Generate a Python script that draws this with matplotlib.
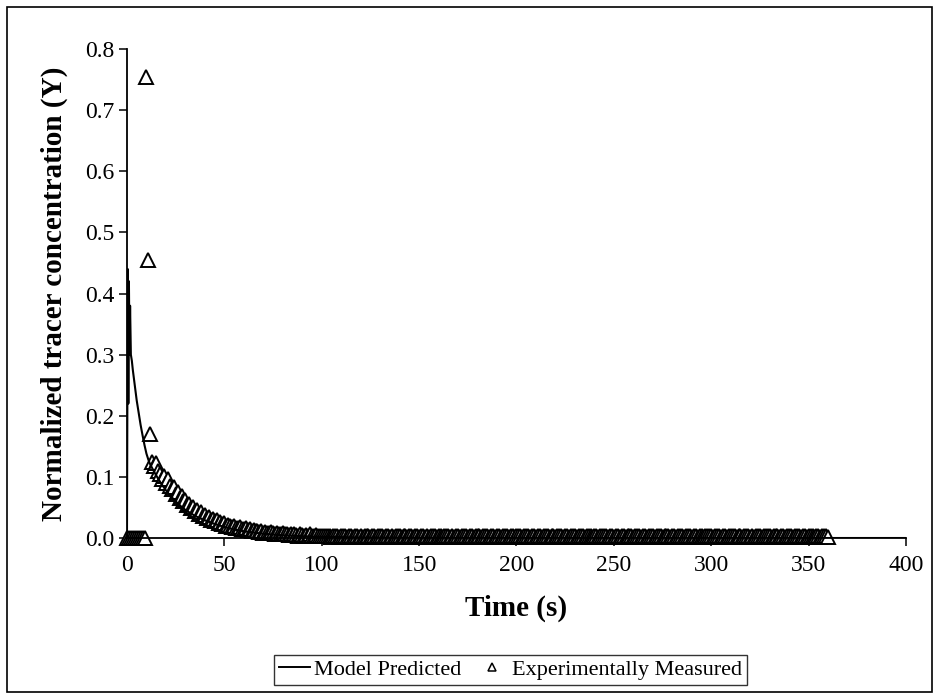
import numpy as np
import matplotlib
matplotlib.use("Agg")
import matplotlib.pyplot as plt
from matplotlib.patches import Rectangle
from matplotlib.lines import Line2D

# ---------------- data ----------------
model_time = [0, 0.4, 0.7, 1.0, 1.3, 1.6, 2.0, 2.5, 3.0, 4, 5, 6, 7, 8, 9, 10, 11, 12, 14, 16, 18,
              20, 22, 25, 28, 30, 35, 40, 45, 50, 55, 60, 65, 70, 80, 90, 100, 120, 150, 200, 300, 400]
model_values = [0.0, 0.44, 0.22, 0.42, 0.30, 0.38, 0.30, 0.29, 0.275, 0.25, 0.225, 0.205, 0.185,
                0.168, 0.152, 0.138, 0.128, 0.120, 0.108, 0.097, 0.087, 0.078, 0.070, 0.060,
                0.051, 0.046, 0.036, 0.029, 0.023, 0.018, 0.014, 0.011, 0.009, 0.007, 0.0045,
                0.003, 0.002, 0.001, 0.0005, 0.0002, 0.0, 0.0]

exp_time_early = np.arange(0, 101, 1)
exp_values_early = [
    0.0, 0.0, 0.0, 0.0, 0.0, 0.0, 0.0, 0.0, 0.0, 0.0,                      # 0-9
    0.755, 0.455, 0.170, 0.125, 0.118, 0.122, 0.110, 0.104, 0.096, 0.102,  # 10-19
    0.090, 0.097, 0.085, 0.080, 0.083, 0.072, 0.075, 0.066, 0.068, 0.060,  # 20-29
    0.062, 0.054, 0.056, 0.049, 0.051, 0.044, 0.046, 0.040, 0.042, 0.036,  # 30-39
    0.038, 0.033, 0.034, 0.030, 0.031, 0.028, 0.029, 0.025, 0.027, 0.023,  # 40-49
    0.024, 0.020, 0.022, 0.019, 0.018, 0.020, 0.017, 0.016, 0.018, 0.015,  # 50-59
    0.014, 0.016, 0.013, 0.014, 0.012, 0.013, 0.011, 0.012, 0.010, 0.011,  # 60-69
    0.009, 0.010, 0.009, 0.008, 0.010, 0.008, 0.007, 0.009, 0.007, 0.006,  # 70-79
    0.008, 0.006, 0.007, 0.005, 0.006, 0.005, 0.007, 0.005, 0.004, 0.006,  # 80-89
    0.005, 0.004, 0.005, 0.004, 0.006, 0.004, 0.003, 0.005, 0.004, 0.003,  # 90-99
    0.004,                                                                 # 100
]

exp_time_late = np.arange(101, 361, 1)
exp_values_late = [
    0.004, 0.003, 0.004, 0.003, 0.002, 0.004, 0.003, 0.003, 0.002, 0.003,  # 101-110
    0.003, 0.004, 0.002, 0.003, 0.003, 0.002, 0.004, 0.003, 0.002, 0.003,
    0.002, 0.003, 0.004, 0.003, 0.002, 0.003, 0.003, 0.002, 0.004, 0.003,
    0.003, 0.002, 0.003, 0.004, 0.002, 0.003, 0.002, 0.003, 0.003, 0.004,
    0.002, 0.003, 0.003, 0.002, 0.004, 0.003, 0.002, 0.003, 0.003, 0.002,
    0.003, 0.004, 0.002, 0.003, 0.002, 0.003, 0.004, 0.003, 0.002, 0.003,
    0.003, 0.002, 0.003, 0.004, 0.003, 0.002, 0.003, 0.002, 0.004, 0.003,
    0.002, 0.003, 0.003, 0.004, 0.002, 0.003, 0.003, 0.002, 0.003, 0.004,
    0.003, 0.002, 0.004, 0.003, 0.003, 0.002, 0.003, 0.004, 0.002, 0.003,
    0.003, 0.002, 0.003, 0.003, 0.004, 0.002, 0.003, 0.003, 0.002, 0.004,  # 191-200
    0.003, 0.003, 0.002, 0.003, 0.004, 0.003, 0.002, 0.003, 0.003, 0.002,
    0.004, 0.003, 0.002, 0.003, 0.003, 0.004, 0.002, 0.003, 0.003, 0.002,
    0.003, 0.004, 0.003, 0.002, 0.003, 0.003, 0.002, 0.004, 0.003, 0.003,
    0.002, 0.003, 0.004, 0.003, 0.002, 0.003, 0.003, 0.004, 0.002, 0.003,
    0.003, 0.002, 0.003, 0.004, 0.003, 0.003, 0.002, 0.003, 0.004, 0.002,
    0.004, 0.003, 0.002, 0.003, 0.003, 0.002, 0.004, 0.003, 0.003, 0.002,
    0.003, 0.003, 0.004, 0.002, 0.003, 0.003, 0.002, 0.003, 0.004, 0.003,
    0.002, 0.004, 0.003, 0.003, 0.002, 0.003, 0.003, 0.004, 0.002, 0.003,
    0.003, 0.002, 0.004, 0.003, 0.003, 0.002, 0.003, 0.003, 0.004, 0.002,
    0.003, 0.003, 0.002, 0.004, 0.003, 0.002, 0.003, 0.004, 0.003, 0.003,  # 291-300
    0.002, 0.003, 0.003, 0.004, 0.002, 0.003, 0.003, 0.002, 0.004, 0.003,
    0.003, 0.004, 0.002, 0.003, 0.003, 0.002, 0.003, 0.004, 0.003, 0.002,
    0.003, 0.002, 0.004, 0.003, 0.003, 0.002, 0.003, 0.003, 0.004, 0.003,
    0.002, 0.003, 0.003, 0.004, 0.002, 0.003, 0.003, 0.002, 0.003, 0.004,
    0.003, 0.002, 0.003, 0.003, 0.004, 0.002, 0.003, 0.003, 0.002, 0.003,
    0.004, 0.003, 0.002, 0.003, 0.003, 0.002, 0.004, 0.003, 0.003, 0.002,  # 351-360
]

x_ticks = [0, 50, 100, 150, 200, 250, 300, 350, 400]
y_ticks = [0.0, 0.1, 0.2, 0.3, 0.4, 0.5, 0.6, 0.7, 0.8]
y_tick_labels = ["0.0", "0.1", "0.2", "0.3", "0.4", "0.5", "0.6", "0.7", "0.8"]

# ---------------- plot ----------------
plt.rcParams['font.family'] = ['Liberation Serif', 'DejaVu Serif']

fig = plt.figure(figsize=(9.35, 6.96), dpi=100)
ax = fig.add_axes([0.1358, 0.227, 0.969 - 0.1358, 0.9296 - 0.227])

exp_time = np.concatenate([exp_time_early, exp_time_late])
exp_values = np.concatenate([exp_values_early, exp_values_late])

ax.plot(exp_time, exp_values, linestyle='none', marker='^', markersize=9.5,
        markerfacecolor='white', markeredgecolor='black', markeredgewidth=1.4,
        zorder=2, clip_on=False)
ax.plot(model_time, model_values, color='black', linewidth=1.5, zorder=3)

ax.set_xlim(0, 400)
ax.set_ylim(0, 0.8)
ax.set_xticks(x_ticks)
ax.set_yticks(y_ticks)
ax.set_yticklabels(y_tick_labels)
ax.tick_params(direction='out', length=6, width=1.1, labelsize=17, pad=3)
ax.tick_params(axis='x', pad=6)

for s in ['top', 'right']:
    ax.spines[s].set_visible(False)
for s in ['left', 'bottom']:
    ax.spines[s].set_linewidth(1.3)

ax.set_xlabel('Time (s)', fontsize=21, fontweight='bold', labelpad=14)
ax.set_ylabel('Normalized tracer concentration (Y)', fontsize=21, fontweight='bold', labelpad=12)

handles = [Line2D([], [], color='black', linewidth=1.4),
           Line2D([], [], linestyle='none', marker='^', markersize=6,
                  markerfacecolor='white', markeredgecolor='black', markeredgewidth=1.1)]
leg = fig.legend(handles, ['Model Predicted', 'Experimentally Measured'],
                 loc='center', bbox_to_anchor=(0.546, 0.0375), ncol=2, fontsize=16,
                 frameon=True, fancybox=False, edgecolor='black', handlelength=1.4,
                 handletextpad=0.2, columnspacing=0.7, borderpad=0.2)
leg.get_frame().set_linewidth(1.0)

fig.patches.append(Rectangle((0.008, 0.006), 0.989, 0.984, transform=fig.transFigure,
                             fill=False, edgecolor='black', linewidth=1.2))

fig.savefig('out.png', dpi=100)
